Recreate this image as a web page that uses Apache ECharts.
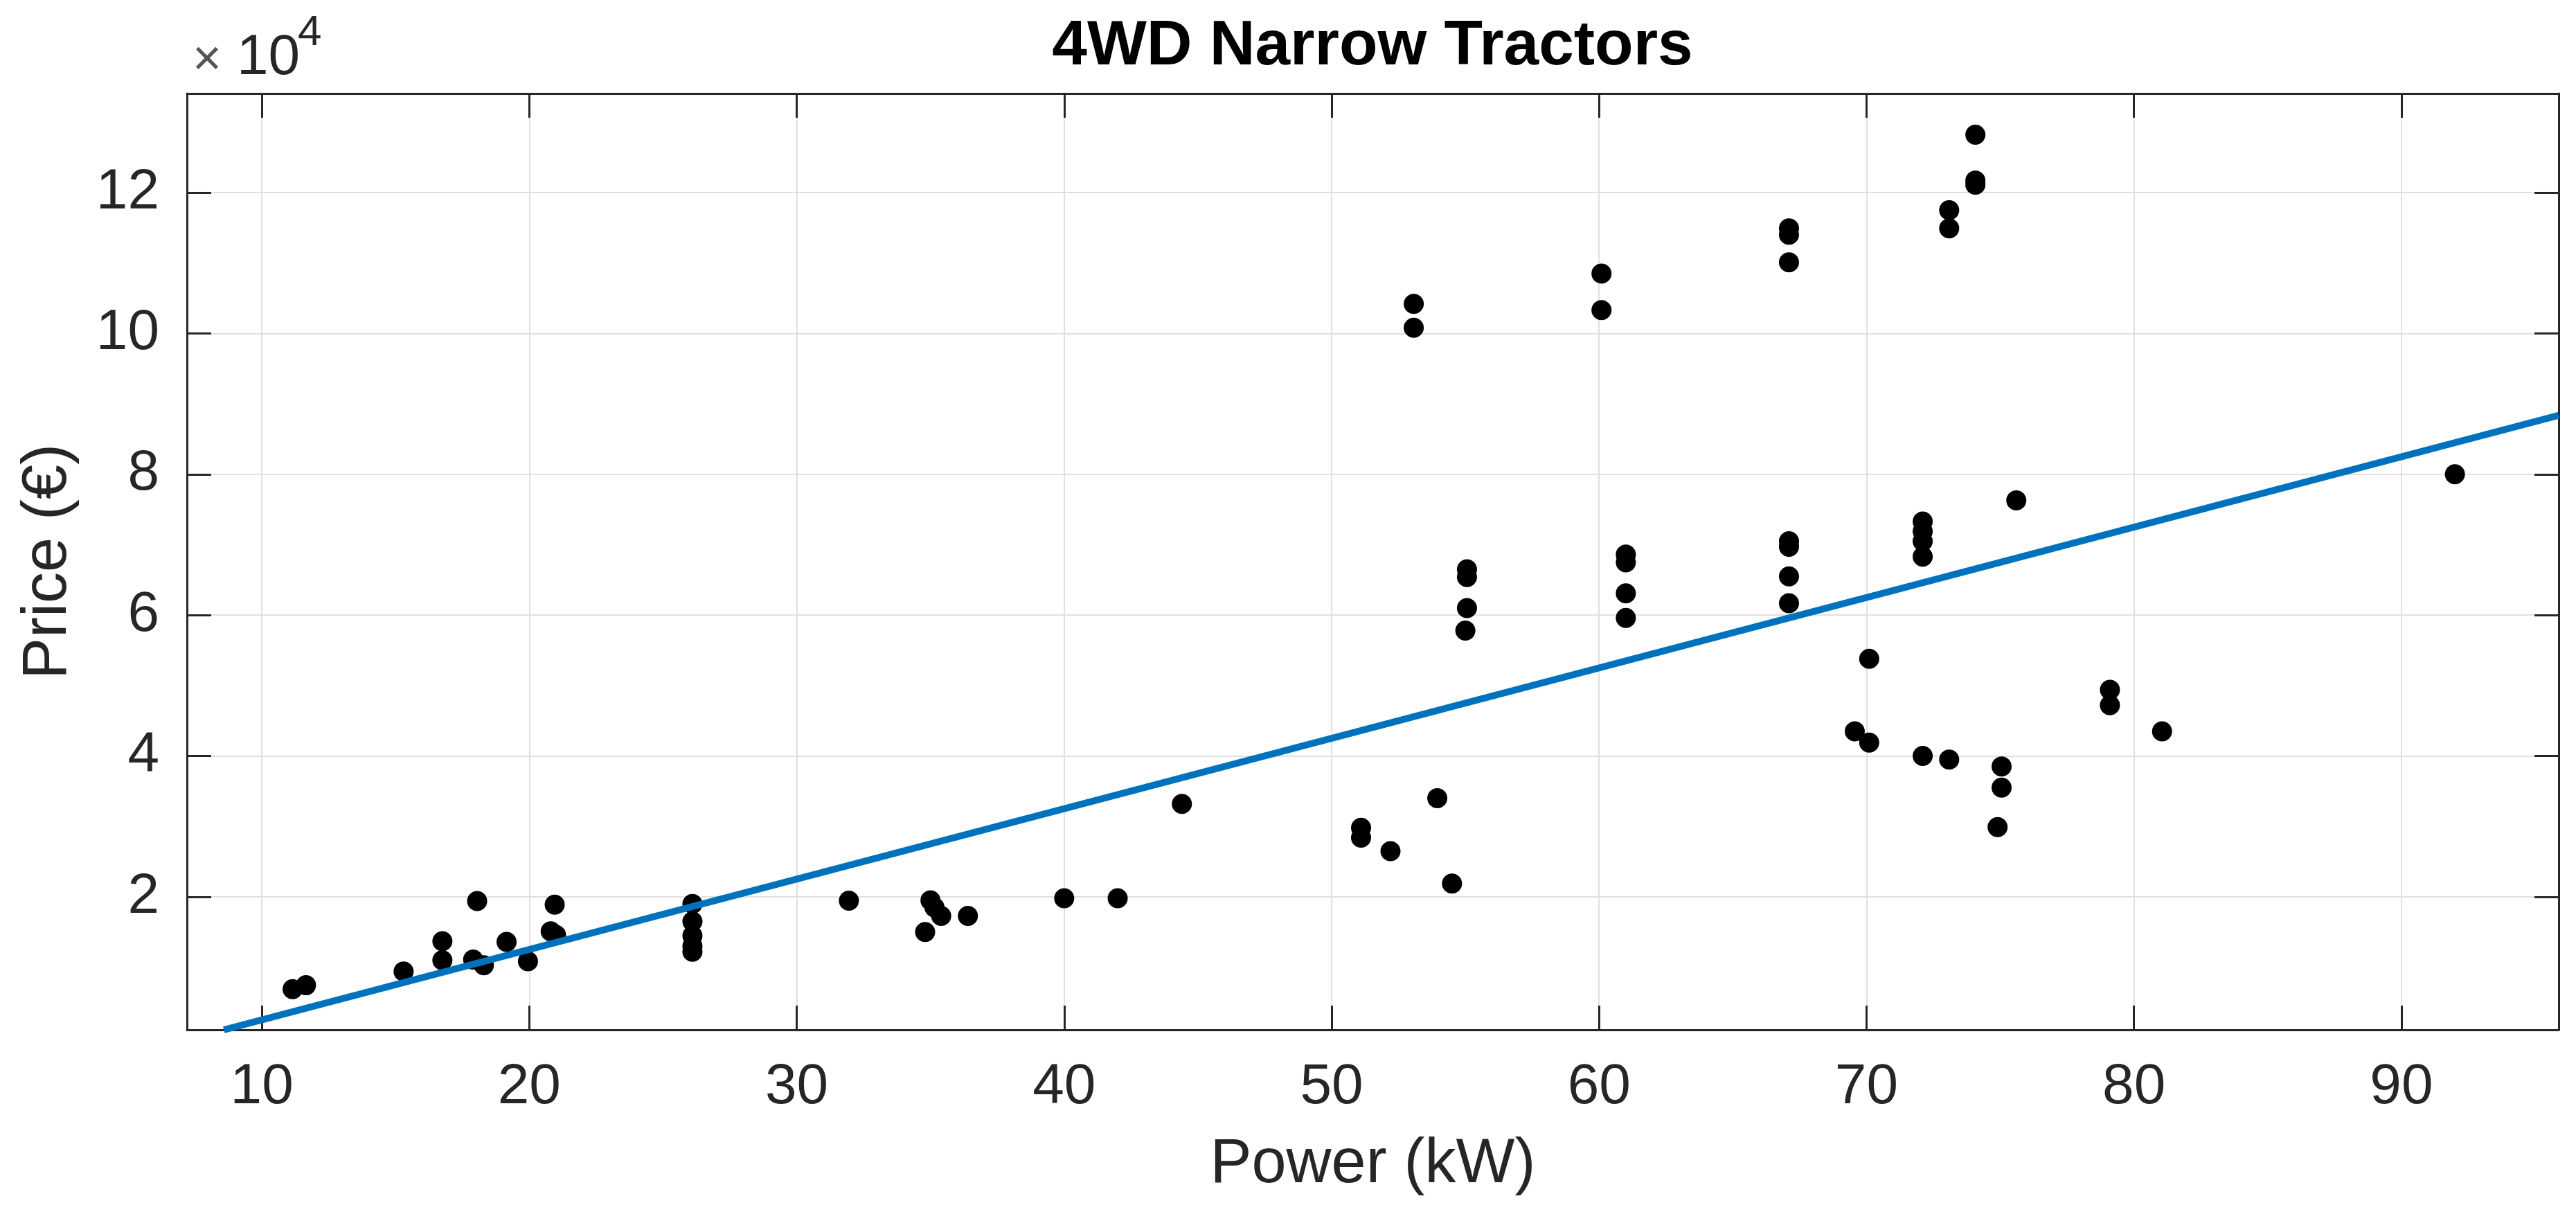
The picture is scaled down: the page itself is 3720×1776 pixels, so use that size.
<!DOCTYPE html>
<html>
<head>
<meta charset="utf-8">
<script src="https://cdn.jsdelivr.net/npm/echarts@6/dist/echarts.min.js"></script>
<style>
html,body{margin:0;padding:0;background:#fff;}
#chart{width:3720px;height:1776px;}
</style>
</head>
<body>
<div id="chart"></div>
<script>
// ---- data ----
const powerKW = [11.15, 11.65, 15.3, 16.75, 16.75, 17.9, 18.05, 18.3, 19.15, 19.95, 20.8, 21.0, 20.95,
  26.1, 26.1, 26.1, 26.1, 26.1, 31.95, 34.8, 35.0, 35.15, 35.4, 36.4, 40.0, 42.0, 44.4,
  51.1, 51.1, 52.2, 53.95, 54.5, 53.07, 53.07, 55.06, 55.06, 55.06, 55.0, 60.09, 60.09,
  61.0, 61.0, 61.0, 61.0, 67.1, 67.1, 67.1, 67.1, 67.1, 67.1, 67.1, 69.56, 70.1, 70.1,
  72.1, 72.1, 72.1, 72.1, 72.1, 73.09, 73.09, 73.09, 74.07, 74.07, 74.07, 75.6, 75.05, 75.05, 74.9,
  79.1, 79.1, 81.05, 92.0];
const priceEUR = [6900, 7450, 9400, 11000, 13700, 11100, 19400, 10300, 13600, 10850, 15100, 14600, 18900,
  19000, 16500, 14500, 13000, 12200, 19450, 15000, 19500, 18500, 17300, 17300, 19800, 19800, 33200,
  29800, 28400, 26500, 34000, 21900, 104200, 100800, 66500, 65400, 61000, 57800, 108500, 103300,
  68600, 67500, 63100, 59600, 114900, 114000, 110100, 70500, 69700, 65500, 61700, 43500, 41900, 53800,
  73300, 71900, 70500, 68300, 40000, 117500, 114900, 39500, 128200, 121700, 121100, 76300, 38500, 35500, 29900,
  49400, 47200, 43500, 80000];
const fitX = [8.58, 95.88];
const fitY = [1120, 88360];
const xTickValues = [10, 20, 30, 40, 50, 60, 70, 80, 90];
const yTickValues = [20000, 40000, 60000, 80000, 100000, 120000];
const xRange = [7.2, 95.88];
const yRange = [1120, 134060];
const titleText = '4WD Narrow Tractors';
const xName = 'Power (kW)';
const yName = 'Price (€)';

// ---- chart ----
const FONT = '"Liberation Sans", Arial, Helvetica, sans-serif';
const AX = '#262626';
const GRIDC = '#e0e0e0';
const isTick = (arr, v) => arr.some(t => Math.abs(t - v) < 1e-6);

const scatterData = powerKW.map((x, i) => [x, priceEUR[i]]);
const fitData = fitX.map((x, i) => [x, fitY[i]]);

const chart = echarts.init(document.getElementById('chart'), null, {renderer: 'canvas'});

const baseX = {
  type: 'value', min: xRange[0], max: xRange[1],
  splitNumber: 9, minInterval: 10, maxInterval: 10,
  axisLine: {show: true, onZero: false, lineStyle: {color: AX, width: 3}},
  axisTick: {show: true, inside: true, length: 35, lineStyle: {color: AX, width: 3}}
};
const baseY = {
  type: 'value', min: yRange[0], max: yRange[1],
  splitNumber: 7, minInterval: 20000, maxInterval: 20000,
  axisLine: {show: true, onZero: false, lineStyle: {color: AX, width: 3}},
  axisTick: {show: true, inside: true, length: 35, lineStyle: {color: AX, width: 3}}
};

chart.setOption({
  animation: false,
  backgroundColor: '#ffffff',
  grid: {left: 270, right: 25, top: 135, bottom: 289, containLabel: false},
  xAxis: [
    Object.assign({}, baseX, {
      position: 'bottom',
      name: xName, nameLocation: 'middle', nameGap: 150,
      nameTextStyle: {fontFamily: FONT, fontSize: 90, color: AX},
      axisLabel: {show: true, margin: 42, fontFamily: FONT, fontSize: 82, color: AX,
        showMinLabel: false, showMaxLabel: false,
        formatter: v => isTick(xTickValues, v) ? String(Math.round(v)) : ''},
      splitLine: {show: true, lineStyle: {color: GRIDC, width: 2}}
    }),
    Object.assign({}, baseX, {
      position: 'top',
      axisLabel: {show: false}, splitLine: {show: false}
    })
  ],
  yAxis: [
    Object.assign({}, baseY, {
      position: 'left',
      name: yName, nameLocation: 'middle', nameGap: 155,
      nameTextStyle: {fontFamily: FONT, fontSize: 90, color: AX},
      axisLabel: {show: true, margin: 40, fontFamily: FONT, fontSize: 82, color: AX,
        showMinLabel: false, showMaxLabel: false,
        formatter: v => isTick(yTickValues, v) ? String(Math.round(v / 10000)) : ''},
      splitLine: {show: true, lineStyle: {color: GRIDC, width: 2}}
    }),
    Object.assign({}, baseY, {
      position: 'right',
      axisLabel: {show: false}, splitLine: {show: false}
    })
  ],
  graphic: [
    {type: 'text', x: 1982, y: 68, style: {text: titleText, font: 'bold 91px ' + FONT,
      fill: '#000', align: 'center', verticalAlign: 'middle'}},
    {type: 'text', x: 278, y: 88, style: {text: '×', font: '72px ' + FONT, fill: '#555',
      align: 'left', verticalAlign: 'middle'}},
    {type: 'text', x: 342, y: 84, style: {text: '10', font: '82px ' + FONT, fill: AX,
      align: 'left', verticalAlign: 'middle'}},
    {type: 'text', x: 430, y: 48, style: {text: '4', font: '62px ' + FONT, fill: AX,
      align: 'left', verticalAlign: 'middle'}}
  ],
  series: [
    {
      type: 'scatter', xAxisIndex: 0, yAxisIndex: 0,
      data: scatterData, symbol: 'circle', symbolSize: 29,
      itemStyle: {color: '#000000', opacity: 1},
      z: 3
    },
    {
      type: 'line', xAxisIndex: 0, yAxisIndex: 0,
      data: fitData, showSymbol: false, symbol: 'none',
      lineStyle: {color: '#0072BD', width: 10}, clip: false,
      z: 4
    }
  ]
});
</script>
</body>
</html>
